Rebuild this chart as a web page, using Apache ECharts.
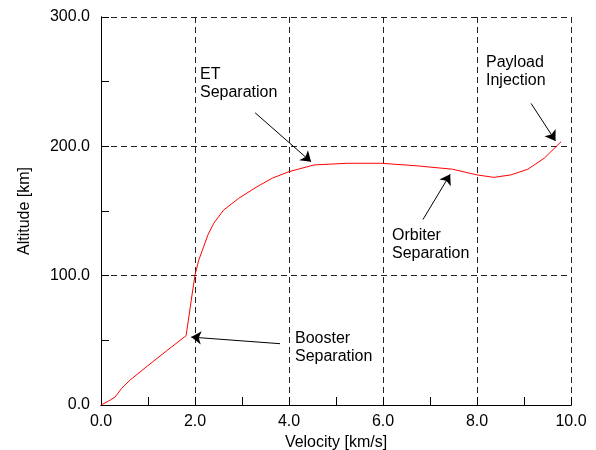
<!DOCTYPE html>
<html>
<head>
<meta charset="utf-8">
<script src="https://cdn.jsdelivr.net/npm/echarts@6/dist/echarts.min.js"></script>
<style>
  html, body { margin: 0; padding: 0; background: #fff; }
  #chart { width: 596px; height: 450px; }
</style>
</head>
<body>
<div id="chart"></div>
<script>
  // trajectory: velocity [km/s] vs altitude [km]
  var velocity = [0, 0.16, 0.30, 0.44, 0.62, 1.0, 1.4, 1.81, 1.86, 1.92, 2.0, 2.08, 2.18, 2.28, 2.40, 2.61, 2.93, 3.32, 3.65, 4.0, 4.53, 5.24, 5.95, 6.7, 7.48, 7.75, 8.0, 8.36, 8.72, 9.08, 9.43, 9.79];
  var altitude = [0, 3, 6.2, 12.9, 19.3, 30.5, 42, 53.6, 65.7, 81, 100.5, 112, 122, 132, 140.5, 150.8, 159.8, 168.8, 175.5, 180.4, 185.6, 186.9, 186.9, 185, 182.3, 180, 177.9, 176.0, 177.9, 182.3, 190.8, 203.6];

  var xTicks = ['0.0', '2.0', '4.0', '6.0', '8.0', '10.0'];
  var yTicks = ['0.0', '100.0', '200.0', '300.0'];

  // annotation arrows: [from, to] in data units
  var arrowFrom = [[3.81, 47.4], [3.28, 225.9], [6.85, 143.4], [9.15, 233.2]];
  var arrowTo = [[1.92, 52.5], [4.47, 188.0], [7.43, 178.4], [9.67, 204.2]];
  var notes = ['Booster\nSeparation', 'ET\nSeparation', 'Orbiter\nSeparation', 'Payload\nInjection'];
  var notePos = [[295, 348], [200, 84], [392, 245], [486, 72]];

  var font = 'Liberation Sans, Arial, Helvetica, sans-serif';
  var chart = echarts.init(document.getElementById('chart'));

  var pts = velocity.map(function (v, i) { return [v, altitude[i]]; });
  var arrows = arrowFrom.map(function (f, i) {
    return [{ coord: f }, { coord: arrowTo[i] }];
  });

  var black = { color: '#000', width: 1 };
  var grid = { show: true, lineStyle: { color: '#222', type: [6, 4], width: 1 } };

  // tick-only axis, shifted 4px into the plot so its outward ticks end on the frame
  function tickAxis(min, max, step, pos) {
    return {
      type: 'value', min: min, max: max, interval: step, position: pos, offset: -4,
      axisLine: { show: false },
      axisTick: { show: true, inside: false, length: 4, lineStyle: black },
      axisLabel: { show: false },
      splitLine: { show: false }
    };
  }

  function frameAxis(min, max, pos) {
    return {
      type: 'value', min: min, max: max, position: pos,
      axisLine: { show: true, lineStyle: black },
      axisTick: { show: false }, axisLabel: { show: false }, splitLine: { show: false }
    };
  }

  var option = {
    animation: false,
    textStyle: { fontFamily: font },
    grid: { left: 101, right: 25, top: 17, bottom: 45, containLabel: false, outerBoundsMode: 'none' },
    xAxis: [
      {
        type: 'value', min: 0, max: 10, interval: 2, position: 'bottom',
        name: 'Velocity [km/s]', nameLocation: 'middle', nameGap: 27,
        nameTextStyle: { fontSize: 16, color: '#000', fontFamily: font },
        axisLine: { show: true, lineStyle: black },
        axisTick: { show: false },
        axisLabel: {
          fontSize: 16, color: '#000', margin: 9, fontFamily: font,
          formatter: function (v) { return xTicks[Math.round(v / 2)]; }
        },
        splitLine: grid
      },
      frameAxis(0, 10, 'top'),
      tickAxis(0, 10, 1, 'top'),
      tickAxis(0, 10, 1, 'bottom')
    ],
    yAxis: [
      {
        type: 'value', min: 0, max: 300, interval: 100, position: 'left',
        name: 'Altitude [km]', nameLocation: 'middle', nameGap: 68, nameRotate: 90,
        nameTextStyle: { fontSize: 16, color: '#000', fontFamily: font },
        axisLine: { show: true, lineStyle: black },
        axisTick: { show: false },
        axisLabel: {
          fontSize: 16, color: '#000', margin: 11, fontFamily: font,
          formatter: function (v) { return yTicks[Math.round(v / 100)]; }
        },
        splitLine: grid
      },
      frameAxis(0, 300, 'right'),
      tickAxis(0, 300, 50, 'right'),
      tickAxis(0, 300, 50, 'left')
    ],
    series: [{
      type: 'line',
      data: pts,
      showSymbol: false,
      lineStyle: { color: '#ff0000', width: 1 },
      markLine: {
        silent: true,
        symbol: ['none', 'arrow'],
        symbolSize: 10,
        label: { show: false },
        lineStyle: { color: '#000', width: 1, type: 'solid' },
        data: arrows
      }
    }],
    graphic: notes.map(function (t, i) {
      return {
        type: 'text', left: notePos[i][0], top: notePos[i][1] - 18,
        style: { text: t, fontSize: 16, lineHeight: 18, fill: '#000', font: '16px ' + font }
      };
    })
  };

  chart.setOption(option);
</script>
</body>
</html>
